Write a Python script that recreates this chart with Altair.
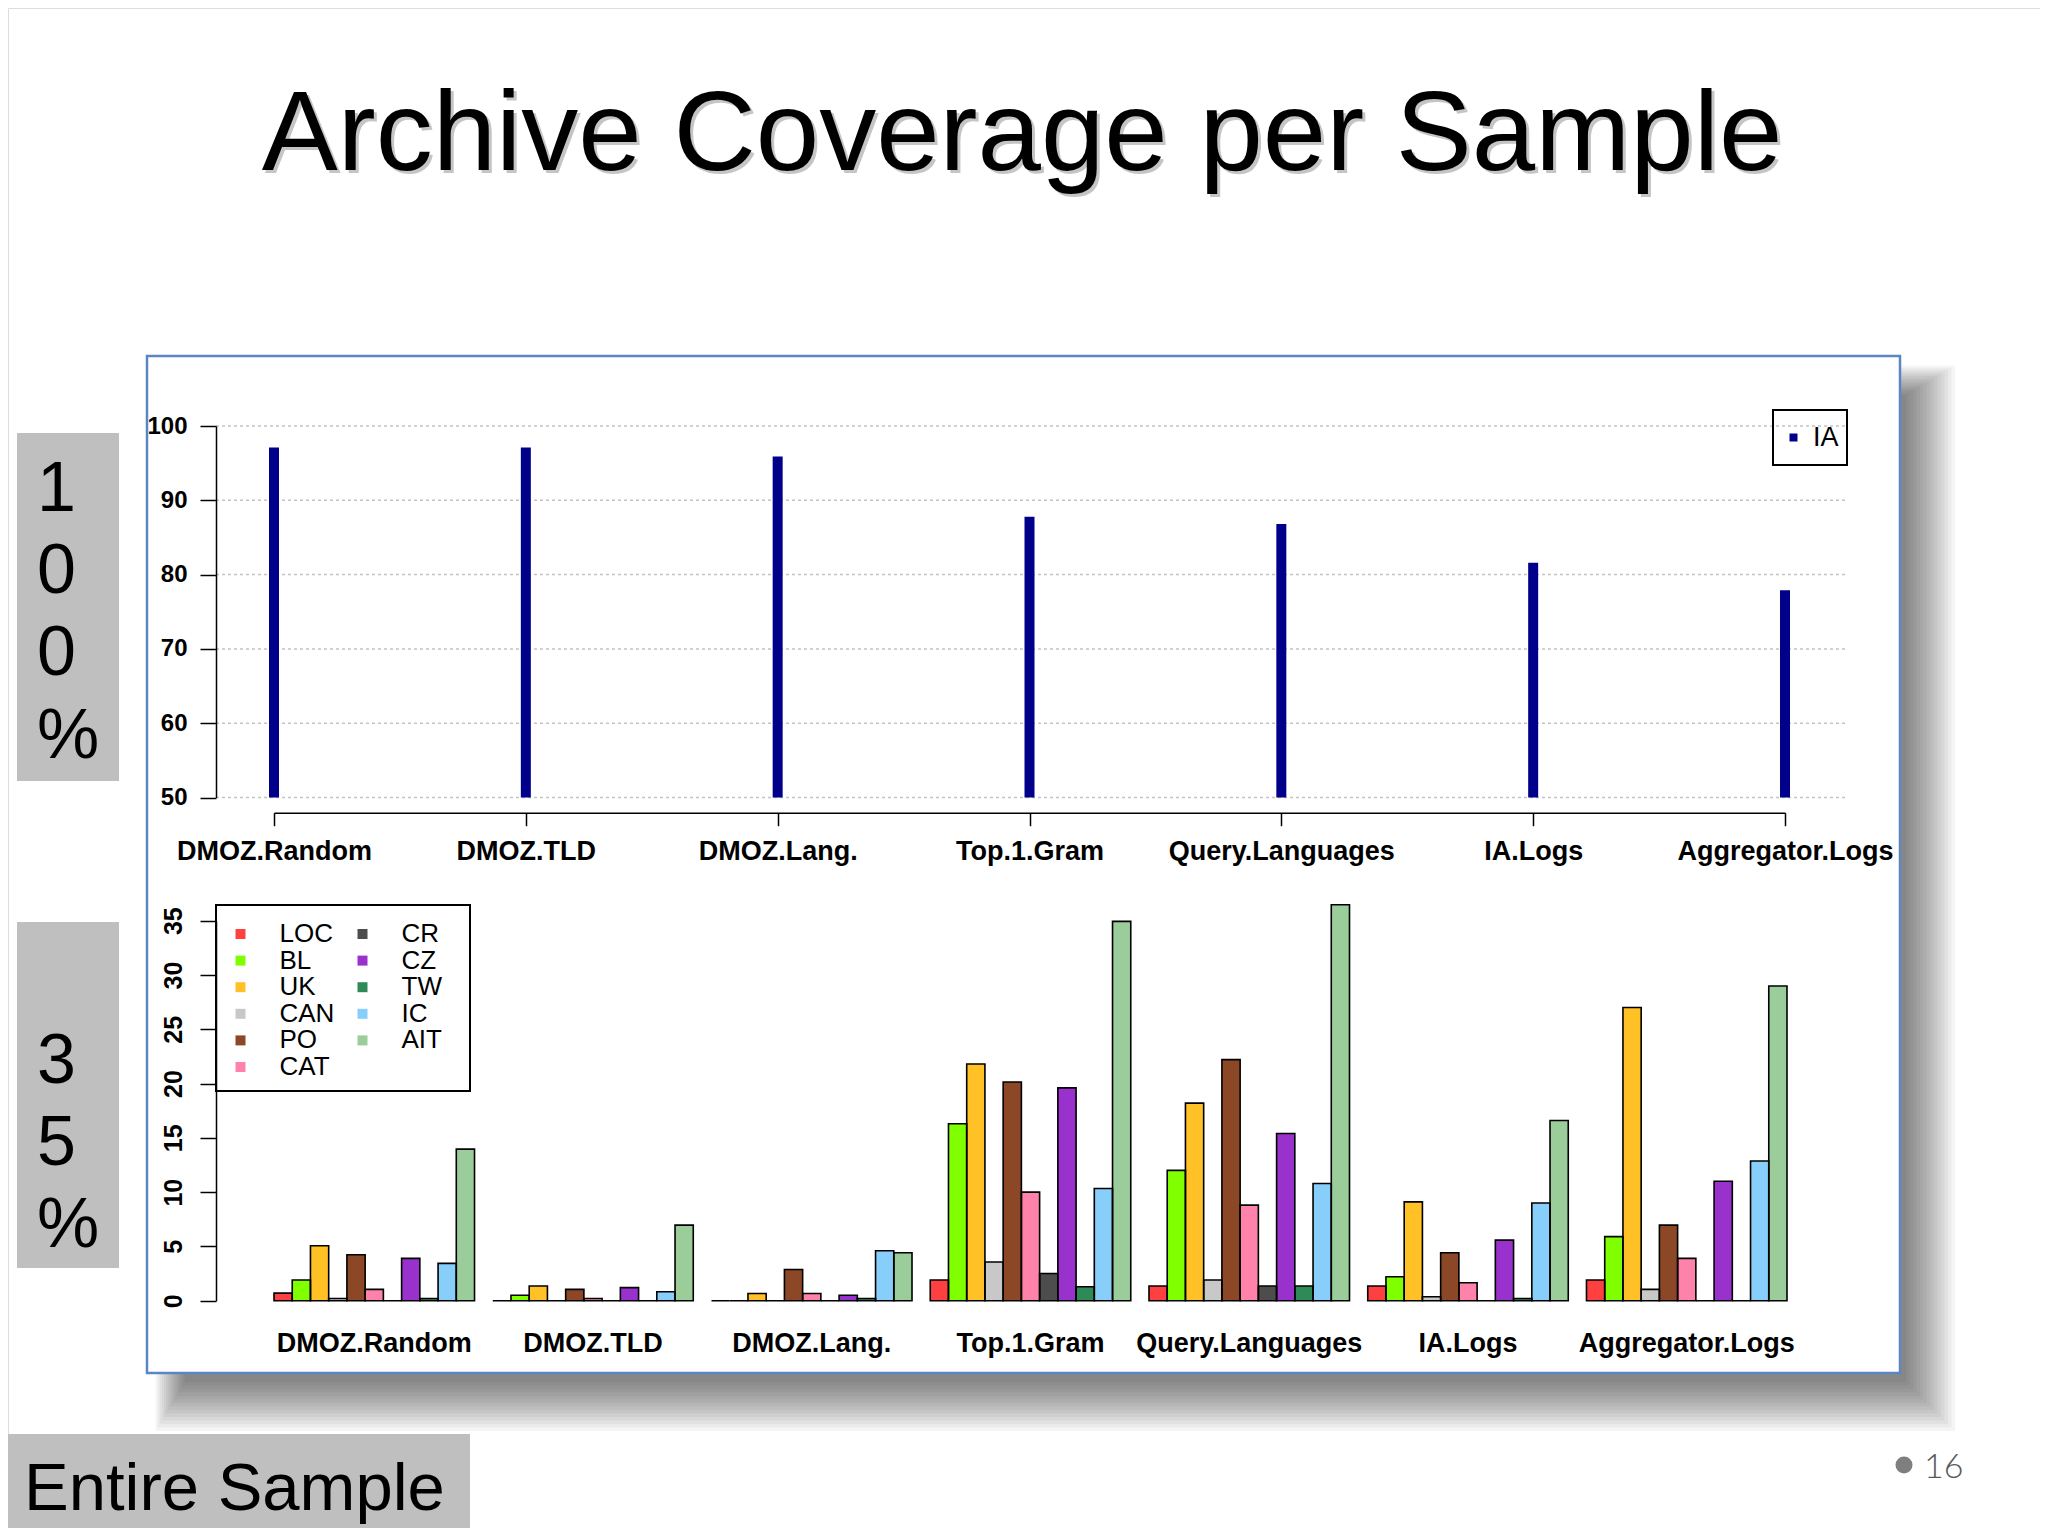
import altair as alt
import pandas as pd

# ---------------- data ----------------
categories = ["DMOZ.Random", "DMOZ.TLD", "DMOZ.Lang.", "Top.1.Gram",
              "Query.Languages", "IA.Logs", "Aggregator.Logs"]

# 100% sample: Internet Archive coverage (%)
ia_coverage = [97.1, 97.1, 95.9, 87.8, 86.8, 81.6, 77.9]

# 35% sample: coverage (%) of the other archives, one value per category
archives = ["LOC", "BL", "UK", "CAN", "PO", "CAT", "CR", "CZ", "TW", "IC", "AIT"]
loc = [0.7, 0.0, 0.0, 1.9, 1.35, 1.35, 1.9]
bl = [1.9, 0.5, 0.0, 16.3, 12.0, 2.2, 5.9]
uk = [5.06, 1.35, 0.67, 21.8, 18.2, 9.1, 27.0]
can = [0.2, 0.0, 0.0, 3.56, 1.9, 0.37, 1.04]
po = [4.23, 1.04, 2.88, 20.15, 22.2, 4.42, 6.96]
cat = [1.04, 0.2, 0.67, 10.0, 8.8, 1.66, 3.9]
cr = [0.0, 0.0, 0.0, 2.5, 1.35, 0.0, 0.0]
cz = [3.9, 1.2, 0.5, 19.6, 15.4, 5.58, 11.0]
tw = [0.2, 0.0, 0.2, 1.29, 1.35, 0.2, 0.0]
ic = [3.44, 0.83, 4.6, 10.34, 10.8, 9.0, 12.87]
ait = [13.96, 6.96, 4.42, 34.94, 36.47, 16.6, 28.99]
archive_values = {"LOC": loc, "BL": bl, "UK": uk, "CAN": can, "PO": po, "CAT": cat,
                  "CR": cr, "CZ": cz, "TW": tw, "IC": ic, "AIT": ait}

archive_colors = {"LOC": "#FF4040", "BL": "#7FFF00", "UK": "#FFC125", "CAN": "#C8C8C8",
                  "PO": "#8B4726", "CAT": "#FF82AB", "CR": "#4D4D4D", "CZ": "#9932CC",
                  "TW": "#2E8B57", "IC": "#87CEFA", "AIT": "#9BCD9B"}

top_y_ticks = [50, 60, 70, 80, 90, 100]
bottom_y_ticks = [0, 5, 10, 15, 20, 25, 30, 35]

# ---------------- layout helpers ----------------
W, H = 2032, 1520
M = 8  # page margin


def px(x):
    return x - M


def py(y):
    return y - M


one = pd.DataFrame({"k": [0]})


def box(x0, y0, x1, y1, **kw):
    return alt.Chart(one).mark_rect(**kw).encode(
        x=alt.value(px(x0)), x2=alt.value(px(x1)),
        y=alt.value(py(y0)), y2=alt.value(py(y1)))


def label(text, x, y, **kw):
    return alt.Chart(one).mark_text(text=text, **kw).encode(
        x=alt.value(px(x)), y=alt.value(py(y)))


FONT = "Liberation Sans"

# ---------------- decorations ----------------
deco_back = []
deco_back.append(box(17, 433, 119, 781, fill="#BFBFBF"))
deco_back.append(box(17, 922, 119, 1268, fill="#BFBFBF"))
deco_back.append(box(0, 1434, 470, 1536, fill="#BFBFBF"))
# soft shadow of the chart frame (down/right)
for k in range(15):
    s = 3.5 * k
    deco_back.append(box(185 - 0.6 * s, 395 - 0.6 * s, 1906 + s, 1382 + s,
                         fill="black", opacity=0.04))
deco_back.append(box(147, 356, 1900, 1373, fill="white", stroke="#5B86C2", strokeWidth=2.5))

for ch, yb in zip(["1", "0", "0", "%"], [511, 593, 675, 758]):
    deco_back.append(label(ch, 37, yb, fontSize=70, font=FONT, align="left",
                           baseline="alphabetic", color="black"))
for ch, yb in zip(["3", "5", "%"], [1083, 1165, 1247]):
    deco_back.append(label(ch, 37, yb, fontSize=70, font=FONT, align="left",
                           baseline="alphabetic", color="black"))
deco_back.append(label("Entire Sample", 24, 1510, fontSize=67, font=FONT, align="left",
                       baseline="alphabetic", color="black"))

# title with a soft shadow
deco_back.append(label("Archive Coverage per Sample", 1025, 173, fontSize=114, font=FONT,
                       align="center", baseline="alphabetic", color="#808080", opacity=0.45))
deco_back.append(label("Archive Coverage per Sample", 1022, 170, fontSize=114, font=FONT,
                       align="center", baseline="alphabetic", color="black"))

# page number
deco_back.append(alt.Chart(one).mark_circle(size=290, color="#7F7F7F", opacity=1).encode(
    x=alt.value(px(1904)), y=alt.value(py(1465))))
deco_back.append(label("16", 1924, 1478, fontSize=34, font="Lato", fontWeight=300,
                       align="left", baseline="alphabetic", color="#595959"))

# ---------------- top chart (100% sample) ----------------
top_df = pd.DataFrame({"sample": categories, "coverage": ia_coverage,
                       "archive": ["IA"] * len(categories), "base": [50] * len(categories)})
grid_df = pd.DataFrame({"coverage": top_y_ticks})

y_top_scale = alt.Scale(domain=[50, 100], range=[py(797.5), py(426)], nice=False, zero=False)
y_top_axis = alt.Axis(orient="left", offset=-px(216), values=top_y_ticks, grid=False, zindex=2,
                      labelFontSize=24, labelFontWeight="bold", labelColor="black", labelFont=FONT,
                      labelPadding=13, tickSize=16, tickColor="black", tickWidth=1.5,
                      domainColor="black", domainWidth=1.5, labelOverlap=False, labelFlush=False,
                      labelAlign="right", labelBaseline="middle")

top_grid = alt.Chart(grid_df).mark_rule(color="#C4C4C4", strokeDash=[3, 3], strokeWidth=1.5).encode(
    y=alt.Y("coverage:Q", scale=y_top_scale, axis=y_top_axis, title=None),
    x=alt.value(px(216)), x2=alt.value(px(1848)))

top_bars = alt.Chart(top_df).mark_bar(width=10).encode(
    x=alt.X("sample:N", sort=categories, title=None,
            scale=alt.Scale(type="point", domain=categories, range=[px(274), px(1785)], padding=0),
            axis=alt.Axis(orient="bottom", offset=-(H - py(812.7)), labelAngle=0, zindex=2,
                          labelFontSize=27, labelFontWeight="bold", labelColor="black", labelFont=FONT,
                          labelPadding=13, tickSize=13, tickColor="black", tickWidth=1.5,
                          domainColor="black", domainWidth=1.5, grid=False, labelOverlap=False,
                          labelFlush=False, labelLimit=500)),
    y=alt.Y("coverage:Q", scale=y_top_scale, title=None, axis=y_top_axis),
    y2="base:Q",
    color=alt.Color("archive:N", title=None,
                    scale=alt.Scale(domain=["IA"], range=["#00008B"]),
                    legend=alt.Legend(orient="none", legendX=px(1780), legendY=py(424), padding=0,
                                      symbolType="square", symbolSize=64, symbolStrokeWidth=0,
                                      labelFontSize=27, labelFont=FONT, labelColor="black",
                                      labelOffset=6, zindex=2)))

top_chart = alt.layer(top_grid, top_bars)

# ---------------- bottom chart (35% sample) ----------------
rows = []
for g, c in enumerate(categories):
    for i, a in enumerate(archives):
        rows.append({"sample": c, "archive": a, "pct": archive_values[a][g],
                     "pos": g * 12 + i, "pos2": g * 12 + i + 1, "zero": 0})
bot_df = pd.DataFrame(rows)
lab_df = pd.DataFrame({"sample": categories,
                       "pos": [g * 12 + 5.5 for g in range(len(categories))]})

x_bot_scale = alt.Scale(domain=[0, 83], range=[px(274), px(1787)], nice=False, zero=False)
y_bot_scale = alt.Scale(domain=[0, 35], range=[py(1300.7), py(920.7)], nice=False, zero=False)

bot_fill = alt.Chart(bot_df).mark_rect().encode(
    x=alt.X("pos:Q", scale=x_bot_scale, axis=None, title=None),
    x2="pos2:Q",
    y=alt.Y("pct:Q", scale=y_bot_scale, title=None,
            axis=alt.Axis(orient="left", offset=-px(216), values=bottom_y_ticks, grid=False, zindex=2,
                          labelAngle=270, labelAlign="center", labelBaseline="bottom",
                          labelFontSize=25, labelFontWeight="bold", labelColor="black", labelFont=FONT,
                          labelPadding=14, tickSize=16, tickColor="black", tickWidth=1.5,
                          domainColor="black", domainWidth=1.5, labelOverlap=False, labelFlush=False)),
    y2="zero:Q",
    color=alt.Color("archive:N", title=None,
                    scale=alt.Scale(domain=archives,
                                    range=[archive_colors[a] for a in archives]),
                    legend=alt.Legend(orient="none", legendX=px(227.5), legendY=py(921), padding=0,
                                      columns=2, columnPadding=15, rowPadding=0.6,
                                      symbolType="square", symbolSize=100, symbolStrokeWidth=0,
                                      labelFontSize=26, labelFont=FONT, labelColor="black",
                                      labelOffset=26, zindex=2)))

bot_outline = alt.Chart(bot_df).mark_rect(fillOpacity=0, stroke="black", strokeWidth=1.6).encode(
    x=alt.X("pos:Q", scale=x_bot_scale, axis=None, title=None),
    x2="pos2:Q",
    y=alt.Y("pct:Q", scale=y_bot_scale, title=None),
    y2="zero:Q")

bot_labels = alt.Chart(lab_df).mark_text(fontSize=27, fontWeight="bold", font=FONT,
                                         align="center", baseline="alphabetic", color="black").encode(
    x=alt.X("pos:Q", scale=x_bot_scale, axis=None, title=None),
    y=alt.value(py(1352)),
    text="sample:N")

bot_chart = alt.layer(bot_fill, bot_outline, bot_labels)

# legend frames
legend_boxes = [
    box(216, 905, 470, 1091, fill="transparent", stroke="black", strokeWidth=2),
    box(1773, 410, 1847, 465, fill="transparent", stroke="black", strokeWidth=2),
]

chart = alt.layer(*deco_back, top_chart, bot_chart, *legend_boxes).resolve_scale(
    x="independent", y="independent", color="independent"
).properties(
    width=W, height=H, padding=0,
    autosize=alt.AutoSizeParams(type="none"),
    background="white",
).configure_view(strokeWidth=0, stroke="transparent").configure(font=FONT)

chart.save("out.html", embed_options={"renderer": "svg", "actions": False})
